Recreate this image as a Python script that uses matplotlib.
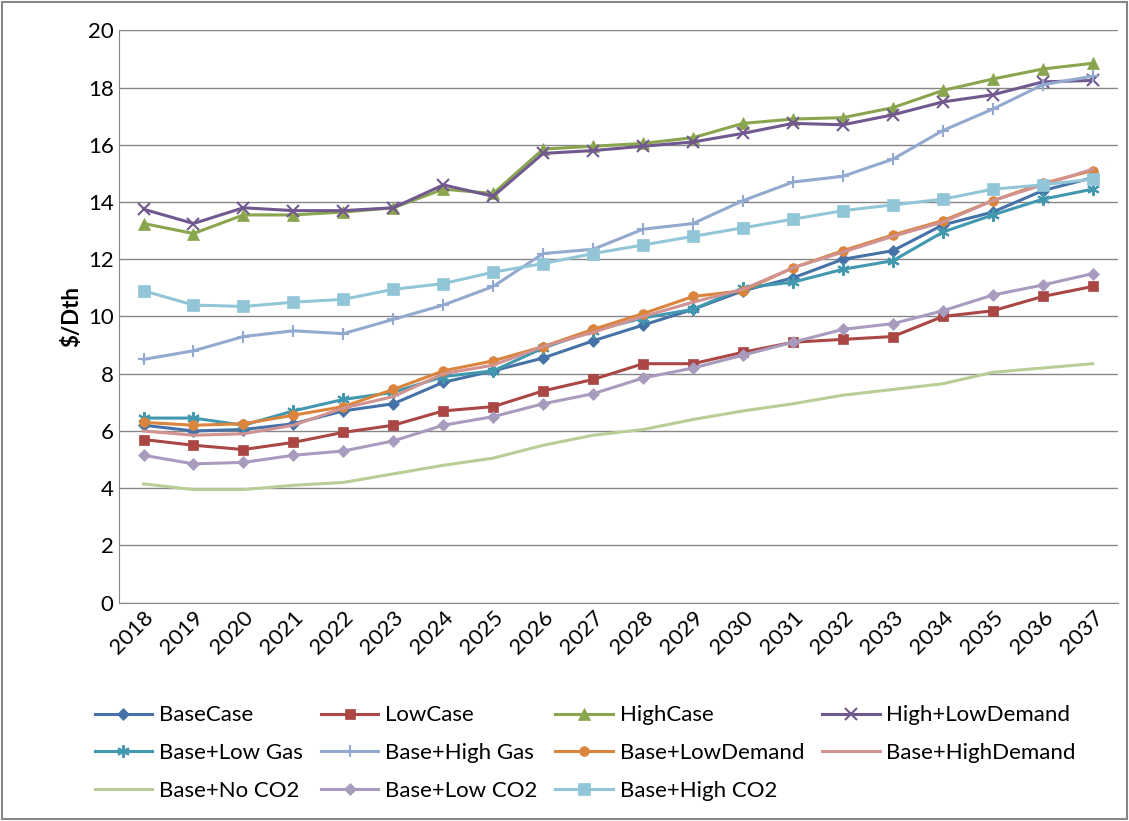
import matplotlib.pyplot as plt

plt.rcParams['font.family'] = ['Lato', 'DejaVu Sans']

years = list(range(2018, 2038))

base_case = [6.2, 6.0, 6.05, 6.25, 6.7, 6.95, 7.7, 8.1, 8.55, 9.15, 9.7, 10.25, 10.9, 11.35, 12.0, 12.3, 13.2, 13.65, 14.4, 14.85]
low_case = [5.7, 5.5, 5.35, 5.6, 5.95, 6.2, 6.7, 6.85, 7.4, 7.8, 8.35, 8.35, 8.75, 9.1, 9.2, 9.3, 10.0, 10.2, 10.7, 11.05]
high_case = [13.25, 12.9, 13.55, 13.55, 13.65, 13.8, 14.45, 14.3, 15.85, 15.95, 16.05, 16.25, 16.75, 16.9, 16.95, 17.3, 17.9, 18.3, 18.65, 18.85]
high_low_demand = [13.75, 13.25, 13.8, 13.7, 13.7, 13.8, 14.6, 14.2, 15.7, 15.8, 15.95, 16.1, 16.4, 16.75, 16.7, 17.05, 17.5, 17.75, 18.2, 18.25]
base_low_gas = [6.45, 6.45, 6.2, 6.7, 7.1, 7.35, 7.9, 8.1, 8.9, 9.5, 9.95, 10.25, 11.0, 11.2, 11.65, 11.95, 12.95, 13.55, 14.1, 14.45]
base_high_gas = [8.5, 8.8, 9.3, 9.5, 9.4, 9.9, 10.4, 11.05, 12.2, 12.35, 13.05, 13.25, 14.05, 14.7, 14.9, 15.5, 16.5, 17.25, 18.1, 18.4]
base_low_demand = [6.3, 6.2, 6.25, 6.55, 6.85, 7.45, 8.1, 8.45, 8.95, 9.55, 10.1, 10.7, 10.9, 11.7, 12.3, 12.85, 13.35, 14.05, 14.65, 15.1]
base_high_demand = [6.0, 5.85, 5.9, 6.2, 6.8, 7.2, 8.0, 8.3, 8.95, 9.45, 10.0, 10.5, 10.95, 11.7, 12.25, 12.8, 13.3, 14.05, 14.6, 15.15]
base_no_co2 = [4.15, 3.95, 3.95, 4.1, 4.2, 4.5, 4.8, 5.05, 5.5, 5.85, 6.05, 6.4, 6.7, 6.95, 7.25, 7.45, 7.65, 8.05, 8.2, 8.35]
base_low_co2 = [5.15, 4.85, 4.9, 5.15, 5.3, 5.65, 6.2, 6.5, 6.95, 7.3, 7.85, 8.2, 8.65, 9.1, 9.55, 9.75, 10.2, 10.75, 11.1, 11.5]
base_high_co2 = [10.9, 10.4, 10.35, 10.5, 10.6, 10.95, 11.15, 11.55, 11.85, 12.2, 12.5, 12.8, 13.1, 13.4, 13.7, 13.9, 14.1, 14.45, 14.6, 14.8]

series = [
    ('BaseCase', base_case, '#4572A7', 'D', 6),
    ('LowCase', low_case, '#AA4643', 's', 7),
    ('HighCase', high_case, '#89A54E', '^', 8),
    ('High+LowDemand', high_low_demand, '#71588F', 'x', 8),
    ('Base+Low Gas', base_low_gas, '#4198AF', (6, 2, 0), 9),
    ('Base+High Gas', base_high_gas, '#93A9CF', '+', 9),
    ('Base+LowDemand', base_low_demand, '#DB843D', 'o', 7),
    ('Base+HighDemand', base_high_demand, '#D19392', None, 0),
    ('Base+No CO2', base_no_co2, '#B9CD96', None, 0),
    ('Base+Low CO2', base_low_co2, '#A99BBD', 'D', 6),
    ('Base+High CO2', base_high_co2, '#92C5D8', 's', 8),
]

fig = plt.figure(figsize=(11.29, 8.21), dpi=100)
ax = fig.add_axes([0.105, 0.266, 0.885, 0.697])
x = list(range(len(years)))
for name, vals, col, mk, ms in series:
    ax.plot(x, vals, color=col, marker=mk, markersize=ms, linewidth=2.2,
            markeredgewidth=1.5 if mk in ('x', '+', (6, 2, 0)) else 0.5, label=name)

ax.set_ylim(0, 20)
ax.set_yticks(range(0, 21, 2))
ax.set_xlim(-0.5, len(years) - 0.5)
ax.set_xticks(x)
ax.set_xticklabels(years, rotation=45, ha='right', rotation_mode='anchor')
ax.tick_params(labelsize=16, length=0)
ax.grid(axis='y', color='#868686', linewidth=1)
ax.set_axisbelow(True)
for s in ['top', 'right']:
    ax.spines[s].set_visible(False)
ax.spines['left'].set_color('#868686')
ax.spines['bottom'].set_color('#868686')
ax.set_ylabel('$/Dth', fontsize=16, fontweight='bold')

# legend filled row by row like the original
handles, labels = ax.get_legend_handles_labels()
order = [0, 4, 8, 1, 5, 9, 2, 6, 10, 3, 7]
fig.legend([handles[i] for i in order], [labels[i] for i in order],
           loc='lower left', bbox_to_anchor=(0.066, 0.0), ncol=4, frameon=False,
           fontsize=16, handlelength=2.6, handletextpad=0.3, columnspacing=0.8,
           labelspacing=0.8)
fig.patches.append(plt.Rectangle((0.002, 0.002), 0.996, 0.996, transform=fig.transFigure,
                                 fill=False, edgecolor='#868686', linewidth=1.5))
fig.savefig('out.png')
